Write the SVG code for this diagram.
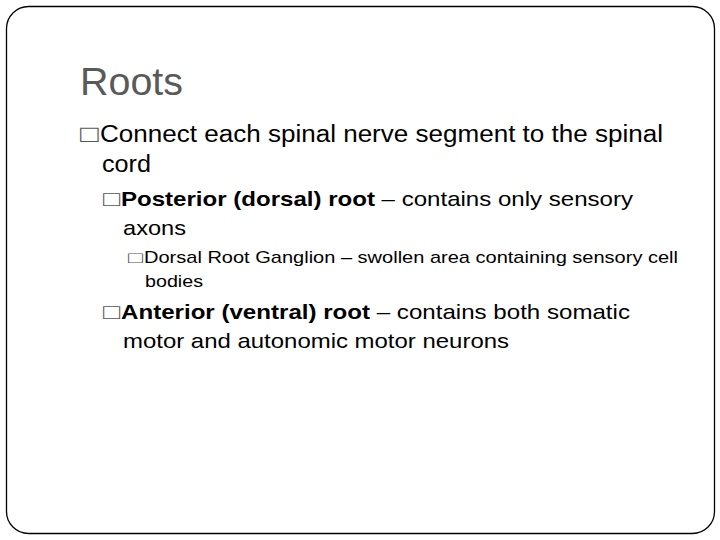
<svg xmlns="http://www.w3.org/2000/svg" width="720" height="540" viewBox="0 0 720 540">
<style>
text{font-family:"Liberation Sans",Arial,sans-serif;fill:#000}
.b{font-weight:bold}
.bx{fill:#555}
</style>
<rect width="720" height="540" fill="#fff"/>
<rect x="6.5" y="6.5" width="708" height="527" rx="22" fill="#fff" stroke="#000" stroke-width="1.3"/>
<g id="title"><text x="80" y="95" font-size="38" textLength="103" lengthAdjust="spacingAndGlyphs" style="fill:#595959">Roots</text></g>
<g id="b1"><text class="bx" x="80" y="142" font-size="24" textLength="19" lengthAdjust="spacingAndGlyphs">□</text>
<text x="100" y="142" font-size="23" textLength="563" lengthAdjust="spacingAndGlyphs">Connect each spinal nerve segment to the spinal</text>
<text x="102" y="172" font-size="23" textLength="49" lengthAdjust="spacingAndGlyphs">cord</text></g>
<g id="b2"><text class="bx" x="103" y="206" font-size="21" textLength="17" lengthAdjust="spacingAndGlyphs">□</text>
<text x="121" y="206" font-size="21" textLength="512" lengthAdjust="spacingAndGlyphs"><tspan class="b">Posterior (dorsal) root</tspan> – contains only sensory</text>
<text x="123" y="235" font-size="21" textLength="63" lengthAdjust="spacingAndGlyphs">axons</text></g>
<g id="b3"><text class="bx" x="128" y="263" font-size="16" textLength="15" lengthAdjust="spacingAndGlyphs">□</text>
<text x="144" y="263" font-size="17" textLength="534" lengthAdjust="spacingAndGlyphs">Dorsal Root Ganglion – swollen area containing sensory cell</text>
<text x="145" y="287" font-size="17" textLength="58" lengthAdjust="spacingAndGlyphs">bodies</text></g>
<g id="b4"><text class="bx" x="103" y="319" font-size="21" textLength="17" lengthAdjust="spacingAndGlyphs">□</text>
<text x="121" y="319" font-size="21" textLength="509" lengthAdjust="spacingAndGlyphs"><tspan class="b">Anterior (ventral) root</tspan> – contains both somatic</text>
<text x="123" y="348" font-size="21" textLength="386" lengthAdjust="spacingAndGlyphs">motor and autonomic motor neurons</text></g>
</svg>
